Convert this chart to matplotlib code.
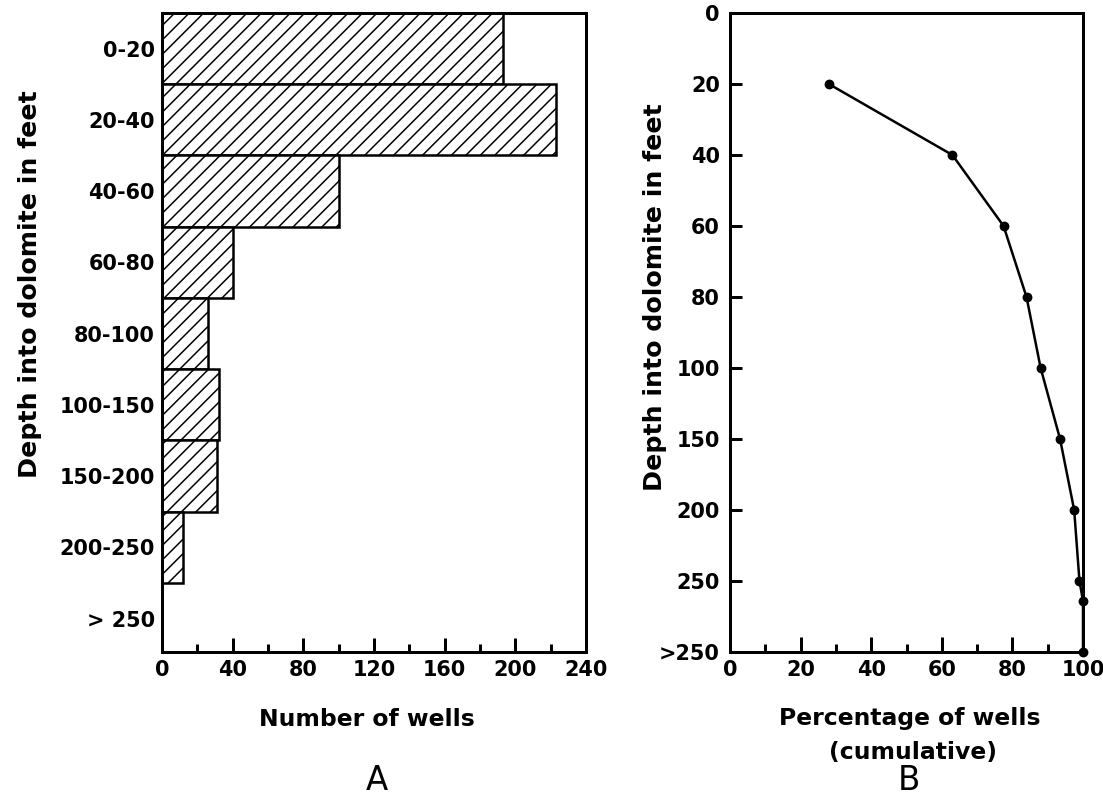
import matplotlib
matplotlib.use("Agg")
import matplotlib.pyplot as plt
from matplotlib.ticker import MultipleLocator

# ---- data ----
depth_classes = ["0-20", "20-40", "40-60", "60-80", "80-100",
                 "100-150", "150-200", "200-250", "> 250"]
well_counts = [193, 223, 100, 40, 26, 32, 31, 12, 0]

depth_ticks = ["0", "20", "40", "60", "80", "100", "150", "200", "250", ">250"]
cum_depth_pos = [1, 2, 3, 4, 5, 6, 7, 8, 8.28, 9]
cum_percent = [28, 63, 77.5, 84, 88, 93.5, 97.5, 99, 100, 100]

DPI = 130
W, H = 1103, 803
PX = 72.0 / DPI  # points per pixel

plt.rcParams['font.family'] = ['DejaVu Sans']
plt.rcParams['hatch.linewidth'] = 1.5 * PX
plt.rcParams['hatch.color'] = 'black'

fig = plt.figure(figsize=(W / DPI, H / DPI), dpi=DPI)
fig.patch.set_facecolor('white')

def fx(px):
    return px / W

def fy(py):
    return 1 - py / H

FS = 11.5
FS_YL = 14
FS_XL = 13
spine_w = 3 * PX

# ---- Panel A ----
axA = fig.add_axes([fx(162), fy(652), fx(586 - 162), (652 - 13) / H])
ypos = list(range(len(depth_classes)))
axA.barh(ypos, well_counts, height=1.0, color='white', edgecolor='black',
         linewidth=2.5 * PX, hatch='///')
axA.set_ylim(8.47, -0.5)
axA.set_xlim(0, 240)
axA.set_yticks(ypos)
axA.set_yticklabels(depth_classes, fontsize=FS, fontweight='bold')
axA.tick_params(axis='y', length=0, pad=7 * PX)
axA.xaxis.set_major_locator(MultipleLocator(40))
axA.xaxis.set_minor_locator(MultipleLocator(20))
axA.tick_params(axis='x', which='major', direction='in', length=14 * PX,
                width=3 * PX, pad=8 * PX, labelsize=FS)
axA.tick_params(axis='x', which='minor', direction='in', length=8 * PX,
                width=3 * PX)
for lab in axA.get_xticklabels():
    lab.set_fontweight('bold')
for s in axA.spines.values():
    s.set_linewidth(spine_w)

# ---- Panel B ----
axB = fig.add_axes([fx(730), fy(652), fx(1083 - 730), (652 - 13) / H])
axB.plot(cum_percent, cum_depth_pos, color='black', linewidth=2.5 * PX,
         marker='o', markersize=8 * PX, clip_on=False, zorder=3)
axB.set_xlim(0, 100)
axB.set_ylim(9, 0)
axB.set_yticks(range(len(depth_ticks)))
axB.set_yticklabels(depth_ticks, fontsize=FS, fontweight='bold')
axB.tick_params(axis='y', direction='in', length=12 * PX, width=3 * PX,
                pad=10 * PX)
axB.xaxis.set_major_locator(MultipleLocator(20))
axB.xaxis.set_minor_locator(MultipleLocator(10))
axB.tick_params(axis='x', which='major', direction='in', length=15 * PX,
                width=3 * PX, pad=8 * PX, labelsize=FS)
axB.tick_params(axis='x', which='minor', direction='in', length=8 * PX,
                width=3 * PX)
for lab in axB.get_xticklabels():
    lab.set_fontweight('bold')
for s in axB.spines.values():
    s.set_linewidth(spine_w)

# ---- labels ----
fig.text(fx(30), fy(284), "Depth into dolomite in feet", rotation=90,
         ha='center', va='center', fontsize=FS_YL, fontweight='bold')
fig.text(fx(655), fy(297), "Depth into dolomite in feet", rotation=90,
         ha='center', va='center', fontsize=FS_YL, fontweight='bold')
fig.text(fx(367), fy(719), "Number of wells", ha='center', va='center',
         fontsize=FS_XL, fontweight='bold')
fig.text(fx(910), fy(719), "Percentage of wells", ha='center', va='center',
         fontsize=FS_XL, fontweight='bold')
fig.text(fx(913), fy(752), "(cumulative)", ha='center', va='center',
         fontsize=FS_XL, fontweight='bold')
fig.text(fx(377), fy(781), "A", ha='center', va='center', fontsize=18)
fig.text(fx(909), fy(781), "B", ha='center', va='center', fontsize=18)

fig.savefig("out.png", dpi=DPI, facecolor='white')
